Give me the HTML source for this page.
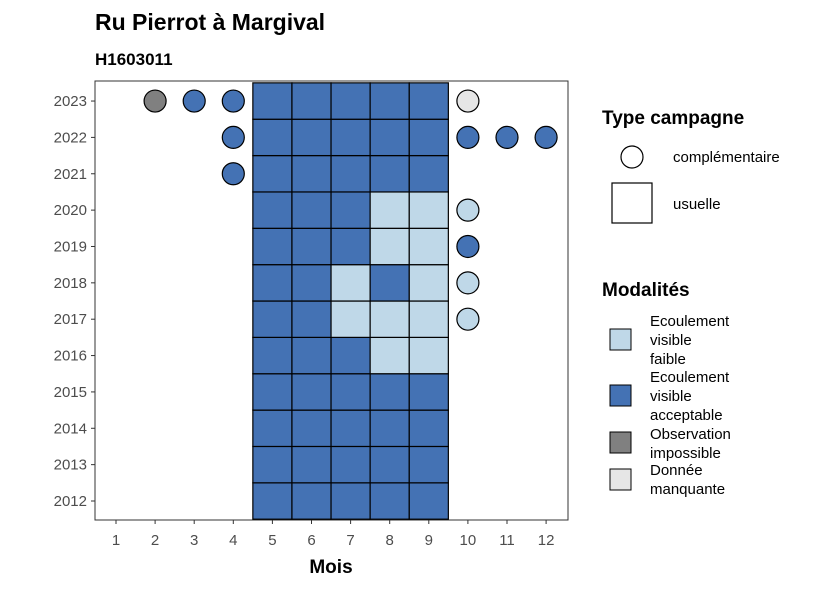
<!DOCTYPE html>
<html><head><meta charset="utf-8">
<style>
body{margin:0;background:#fff;font-family:"Liberation Sans",sans-serif;}
svg text{font-family:"Liberation Sans",sans-serif;}
</style></head>
<body>
<svg id="chart" width="826" height="590">
<text x="95" y="30" font-size="23" font-weight="bold" fill="#000">Ru Pierrot à Margival</text>
<text x="95" y="65" font-size="17" font-weight="bold" fill="#000">H1603011</text>
<rect x="95" y="81" width="473" height="439" fill="#fff" stroke="#333" stroke-width="1"/>
<g id="tiles"></g><g id="points"></g><g id="axes"></g>
<text x="331" y="573" font-size="19" font-weight="bold" text-anchor="middle">Mois</text>
<g>
<text x="602" y="124" font-size="19" font-weight="bold">Type campagne</text>
<circle cx="632" cy="157" r="11" fill="#fff" stroke="#000" stroke-width="1.2"/>
<text x="673" y="162" font-size="15">complémentaire</text>
<rect x="612" y="183" width="40" height="40" fill="#fff" stroke="#000" stroke-width="1.2"/>
<text x="673" y="209" font-size="15">usuelle</text>
</g>
<g>
<text x="602" y="296" font-size="19" font-weight="bold">Modalités</text>
<rect x="610" y="329" width="21" height="21" fill="#bfd8e8" stroke="#000"/>
<text font-size="15"><tspan x="650" y="326">Ecoulement</tspan><tspan x="650" y="345">visible</tspan><tspan x="650" y="364">faible</tspan></text>
<rect x="610" y="385" width="21" height="21" fill="#4472b4" stroke="#000"/>
<text font-size="15"><tspan x="650" y="382">Ecoulement</tspan><tspan x="650" y="401">visible</tspan><tspan x="650" y="420">acceptable</tspan></text>
<rect x="610" y="432" width="21" height="21" fill="#808080" stroke="#000"/>
<text font-size="15"><tspan x="650" y="439">Observation</tspan><tspan x="650" y="458">impossible</tspan></text>
<rect x="610" y="469" width="21" height="21" fill="#e6e6e6" stroke="#000"/>
<text font-size="15"><tspan x="650" y="475">Donnée</tspan><tspan x="650" y="494">manquante</tspan></text>
</g>
</svg>
<script>
const months=[1,2,3,4,5,6,7,8,9,10,11,12];
const years=[2012,2013,2014,2015,2016,2017,2018,2019,2020,2021,2022,2023];
// tiles: [year, month, modality]
const tileData=[];
const faible={2020:[8,9],2019:[8,9],2018:[7,9],2017:[7,8,9],2016:[8,9]};
for(const y of years){for(const m of [5,6,7,8,9]){tileData.push([y,m,(faible[y]&&faible[y].includes(m))?'faible':'acceptable']);}}
const pointData=[[2023,2,'impossible'],[2023,3,'acceptable'],[2023,4,'acceptable'],[2023,10,'manquante'],
[2022,4,'acceptable'],[2022,10,'acceptable'],[2022,11,'acceptable'],[2022,12,'acceptable'],
[2021,4,'acceptable'],[2020,10,'faible'],[2019,10,'acceptable'],[2018,10,'faible'],[2017,10,'faible']];
const colors={faible:'#bfd8e8',acceptable:'#4472b4',impossible:'#808080',manquante:'#e6e6e6'};
const dx=39.1, dy=36.36;
const xs=m=>116+(m-1)*dx;
const ys=y=>501-(y-2012)*dy;
const NS='http://www.w3.org/2000/svg';
const tg=document.getElementById('tiles'),pg=document.getElementById('points'),ag=document.getElementById('axes');
for(const [y,m,k] of tileData){
 const r=document.createElementNS(NS,'rect');
 r.setAttribute('x',xs(m)-dx/2);r.setAttribute('y',ys(y)-dy/2);
 r.setAttribute('width',dx);r.setAttribute('height',dy);
 r.setAttribute('fill',colors[k]);r.setAttribute('stroke','#000');r.setAttribute('stroke-width','1.2');
 
 
 tg.appendChild(r);
}
for(const [y,m,k] of pointData){
 const c=document.createElementNS(NS,'circle');
 c.setAttribute('cx',xs(m));c.setAttribute('cy',ys(y));c.setAttribute('r',11);
 c.setAttribute('fill',colors[k]);c.setAttribute('stroke','#000');c.setAttribute('stroke-width','1.2');
 
 
 pg.appendChild(c);
}
for(const m of months){
 const l=document.createElementNS(NS,'line');
 l.setAttribute('x1',xs(m));l.setAttribute('x2',xs(m));l.setAttribute('y1',520);l.setAttribute('y2',524);l.setAttribute('stroke','#333');
 
 
 ag.appendChild(l);
 const t=document.createElementNS(NS,'text');
 t.setAttribute('x',xs(m));t.setAttribute('y',545);t.setAttribute('font-size','15');t.setAttribute('fill','#4d4d4d');t.setAttribute('text-anchor','middle');
 t.textContent=m;
 
 
 ag.appendChild(t);
}
for(const y of years){
 const l=document.createElementNS(NS,'line');
 l.setAttribute('x1',91);l.setAttribute('x2',95);l.setAttribute('y1',ys(y));l.setAttribute('y2',ys(y));l.setAttribute('stroke','#333');
 
 
 ag.appendChild(l);
 const t=document.createElementNS(NS,'text');
 t.setAttribute('x',87);t.setAttribute('y',ys(y)+5);t.setAttribute('font-size','15');t.setAttribute('fill','#4d4d4d');t.setAttribute('text-anchor','end');
 t.textContent=y;
 
 
 ag.appendChild(t);
}
</script>
</body></html>
